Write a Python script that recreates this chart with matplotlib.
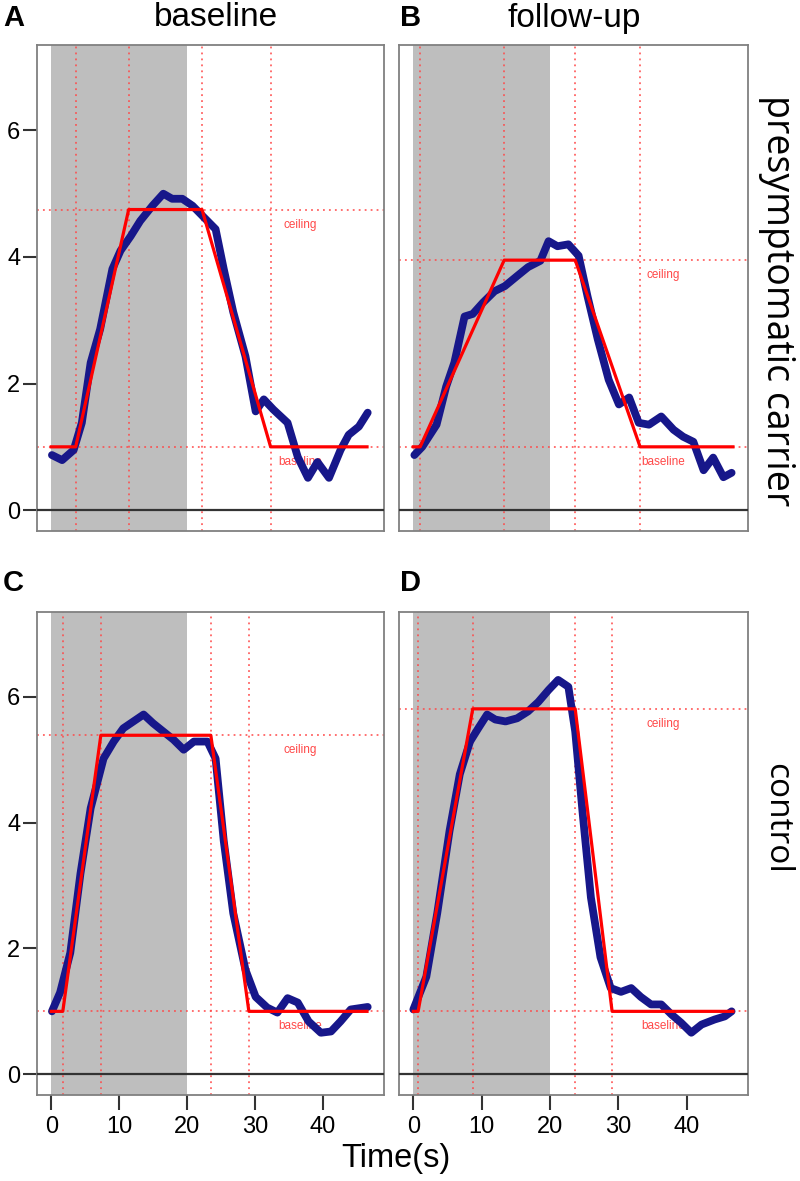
import numpy as np
import matplotlib
matplotlib.use('Agg')
import matplotlib.pyplot as plt

# --- data ---------------------------------------------------------------
# A: presymptomatic carrier, baseline
t_a = [0.1, 1.6, 3.3, 4.5, 5.8, 7.2, 9.0, 10.2, 11.7, 13.1, 14.9, 16.5, 17.8,
       19.3, 20.8, 23.0, 24.2, 25.4, 26.8, 28.6, 30.1, 31.3, 32.7, 34.8, 36.3,
       37.8, 39.2, 40.9, 42.6, 43.8, 45.3, 46.6]
y_a = [0.87, 0.79, 0.95, 1.38, 2.33, 2.86, 3.81, 4.10, 4.33, 4.57, 4.81, 5.00,
       4.92, 4.92, 4.81, 4.57, 4.44, 3.81, 3.13, 2.43, 1.56, 1.75, 1.59, 1.38,
       0.84, 0.51, 0.76, 0.51, 0.95, 1.19, 1.32, 1.54]
# B: presymptomatic carrier, follow-up
t_b = [0.15, 1.3, 3.4, 4.8, 6.0, 7.5, 8.7, 10.2, 11.9, 13.4, 15.2, 16.8, 18.6,
       19.8, 21.1, 22.7, 24.2, 25.5, 27.0, 28.6, 30.1, 31.6, 33.0, 34.5, 36.3,
       38.1, 39.5, 41.0, 42.5, 43.9, 45.4, 46.6]
y_b = [0.87, 1.00, 1.35, 1.95, 2.33, 3.06, 3.10, 3.28, 3.46, 3.54, 3.70, 3.84,
       3.94, 4.25, 4.17, 4.20, 4.02, 3.38, 2.70, 2.06, 1.67, 1.78, 1.38, 1.35,
       1.48, 1.27, 1.16, 1.08, 0.63, 0.83, 0.52, 0.59]
# C: control, baseline
t_c = [0.1, 1.3, 2.8, 4.3, 5.8, 7.7, 9.2, 10.6, 12.1, 13.6, 15.0, 16.5, 18.0,
       19.5, 21.0, 23.0, 24.2, 25.4, 26.8, 28.6, 30.1, 31.8, 33.3, 34.8, 36.3,
       37.9, 39.7, 41.2, 42.6, 44.1, 46.6]
y_c = [1.00, 1.30, 1.93, 3.19, 4.23, 5.02, 5.29, 5.50, 5.61, 5.72, 5.58, 5.45,
       5.32, 5.16, 5.29, 5.29, 5.02, 3.71, 2.56, 1.66, 1.23, 1.06, 0.98, 1.21,
       1.14, 0.84, 0.66, 0.68, 0.84, 1.03, 1.07]
# D: control, follow-up
t_d = [0.0, 1.9, 3.5, 5.3, 6.8, 8.3, 9.5, 10.8, 12.0, 13.5, 15.2, 16.8, 18.3,
       19.8, 21.2, 22.7, 23.7, 24.8, 26.0, 27.4, 28.9, 30.4, 31.9, 33.3, 34.8,
       36.3, 37.8, 39.2, 40.7, 42.2, 44.1, 45.6, 46.6]
y_d = [1.03, 1.55, 2.56, 3.87, 4.77, 5.29, 5.50, 5.72, 5.64, 5.61, 5.66, 5.77,
       5.92, 6.11, 6.27, 6.16, 5.45, 4.14, 2.81, 1.86, 1.37, 1.31, 1.37, 1.23,
       1.11, 1.11, 0.95, 0.82, 0.66, 0.79, 0.87, 0.92, 1.00]

# trapezoid fits: start, onset, plateau start, plateau end, return, end
fit_a = [0.0, 3.6, 11.4, 22.2, 32.3, 46.5]
fit_b = [0.0, 1.0, 13.3, 23.7, 33.2, 46.8]
fit_c = [0.0, 1.7, 7.3, 23.5, 29.1, 46.5]
fit_d = [0.0, 0.7, 8.7, 23.7, 29.1, 46.8]
ceil_a, ceil_b, ceil_c, ceil_d = 4.75, 3.95, 5.39, 5.81
base_level = 1.0
stim_on, stim_off = 0, 20

col_titles = ['baseline', 'follow-up']
row_titles = ['presymptomatic carrier', 'control']
letters = ['A', 'B', 'C', 'D']
yticks = [0, 2, 4, 6]
xticks = [0, 10, 20, 30, 40]

panels = [(t_a, y_a, fit_a, ceil_a), (t_b, y_b, fit_b, ceil_b),
          (t_c, y_c, fit_c, ceil_c), (t_d, y_d, fit_d, ceil_d)]

W, H = 800, 1181
fig = plt.figure(figsize=(8, 11.81), dpi=100)

# axes boxes in pixels: left, top, right, bottom
boxes = [(37, 45, 384, 531), (399, 45, 748, 531),
         (37, 612, 384, 1095), (399, 612, 748, 1095)]

tick_font = 'Liberation Sans'
red_dot = dict(color='#ff4848', lw=1.3, ls=(0, (1, 2.3)), alpha=0.85, zorder=2)

for i, ((t, y, fit, ceil), (l, tp, r, b)) in enumerate(zip(panels, boxes)):
    ax = fig.add_axes([l / W, 1 - b / H, (r - l) / W, (b - tp) / H])
    ax.set_xlim(-2.1, 49.0)
    ax.set_ylim(-0.33, 7.35)

    ax.axvspan(stim_on, stim_off, color='#bebebe', lw=0, zorder=0)
    for xv in fit[1:5]:
        ax.axvline(xv, **red_dot)
    ax.axhline(ceil, **red_dot)
    ax.axhline(base_level, **red_dot)
    ax.axhline(0, color='#333333', lw=1.6, zorder=3)

    ax.text(36.6, ceil - 0.24, 'ceiling', color='#ff4848', fontsize=8.5,
            ha='center', va='center', family=tick_font, zorder=3)
    ax.text(36.6, base_level - 0.24, 'baseline', color='#ff4848', fontsize=8.5,
            ha='center', va='center', family=tick_font, zorder=3)

    ax.plot(t, y, color='#17178a', lw=5.6, solid_capstyle='round',
            solid_joinstyle='round', zorder=4)
    ax.plot(fit, [base_level, base_level, ceil, ceil, base_level, base_level],
            color='#ff0000', lw=2.3, zorder=5)

    for s in ax.spines.values():
        s.set_color('#808080')
        s.set_linewidth(1.3)

    if i % 2 == 0:
        ax.set_yticks(yticks)
        ax.set_yticklabels([str(v) for v in yticks], family=tick_font, fontsize=17)
        ax.tick_params(axis='y', length=10, width=1.5, pad=2, color='#333333')
    else:
        ax.set_yticks([])
    if i >= 2:
        ax.set_xticks(xticks)
        ax.set_xticklabels([str(v) for v in xticks], family=tick_font, fontsize=17)
        ax.tick_params(axis='x', length=11, width=1.5, pad=4, color='#333333')
    else:
        ax.set_xticks([])

    lx = 3 if i % 2 == 0 else 400
    ly = 17.5 if i < 2 else 583
    fig.text(lx / W, 1 - ly / H, letters[i], fontsize=21, fontweight='bold',
             family=tick_font, ha='left', va='center')

fig.text(216 / W, 1 - 26.5 / H, col_titles[0], fontsize=24, family=tick_font,
         ha='center', va='baseline')
fig.text(574 / W, 1 - 26.5 / H, col_titles[1], fontsize=24, family=tick_font,
         ha='center', va='baseline')
fig.text(777 / W, 1 - 301 / H, row_titles[0], fontsize=27, family='Open Sans',
         rotation=-90, ha='center', va='center')
fig.text(777 / W, 1 - 818 / H, row_titles[1], fontsize=24, family='Open Sans',
         rotation=-90, ha='center', va='center')
fig.text(396 / W, 1 - 1167 / H, 'Time(s)', fontsize=23.5, family=tick_font,
         ha='center', va='baseline')

fig.savefig('out.png', dpi=100)
